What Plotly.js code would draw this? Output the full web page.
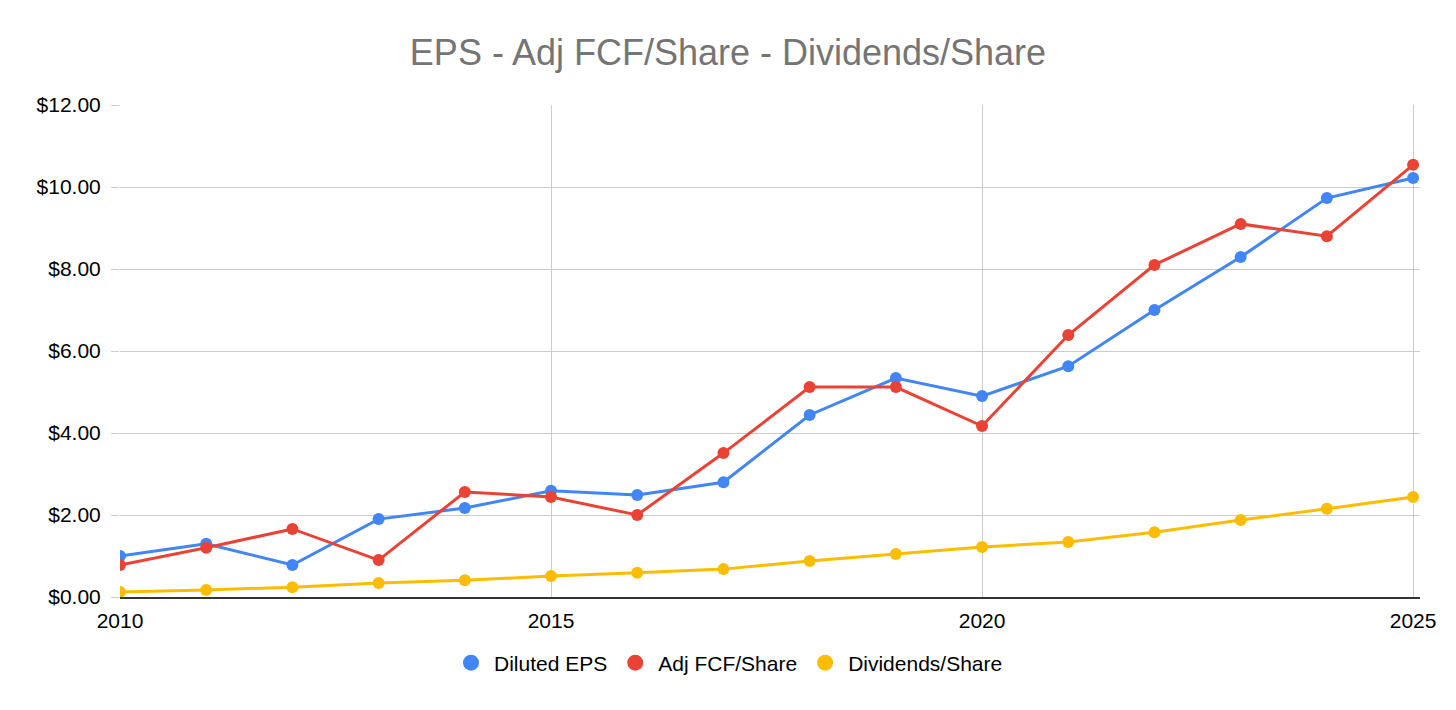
<!DOCTYPE html>
<html>
<head>
<meta charset="utf-8">
<script src="https://cdn.plot.ly/plotly-3.0.1.min.js"></script>
<style>
  html, body { margin: 0; padding: 0; background: #fff; }
  #chart { width: 1456px; height: 710px; }
</style>
</head>
<body>
<div id="chart"></div>
<script>
// ── Data ──
const years = [2010, 2011, 2012, 2013, 2014, 2015, 2016, 2017,
               2018, 2019, 2020, 2021, 2022, 2023, 2024, 2025];
const dilutedEps = [1.00, 1.30, 0.78, 1.90, 2.17, 2.59, 2.49, 2.80,
                    4.44, 5.34, 4.90, 5.63, 7.00, 8.29, 9.73, 10.22];
const adjFcfPerShare = [0.78, 1.20, 1.66, 0.90, 2.56, 2.44, 2.00, 3.51,
                        5.12, 5.12, 4.17, 6.39, 8.10, 9.10, 8.80, 10.54];
const dividendsPerShare = [0.12, 0.17, 0.24, 0.34, 0.41, 0.51, 0.59, 0.68,
                           0.88, 1.05, 1.22, 1.34, 1.58, 1.88, 2.15, 2.44];
const seriesNames = ['Diluted EPS', 'Adj FCF/Share', 'Dividends/Share'];
const seriesColors = ['#4285F4', '#EA4335', '#FBBC04'];

const FONT = 'Liberation Sans, Arial, sans-serif';

function lineTrace(y, i) {
    return {
        x: years,
        y: y,
        type: 'scatter',
        mode: 'lines+markers',
        name: seriesNames[i],
        showlegend: false,
        line: { color: seriesColors[i], width: 3 },
        marker: { color: seriesColors[i], size: 12 },
        hoverinfo: 'x+y',
    };
}

// legend-only entries so the key shows plain dots
function legendTrace(i) {
    return {
        x: [null],
        y: [null],
        type: 'scatter',
        mode: 'markers',
        name: seriesNames[i],
        marker: { color: seriesColors[i], size: 16 },
    };
}

const traces = [
    lineTrace(dilutedEps, 0),
    lineTrace(adjFcfPerShare, 1),
    lineTrace(dividendsPerShare, 2),
    legendTrace(0), legendTrace(1), legendTrace(2),
];

const layout = {
    width: 1456,
    height: 710,
    paper_bgcolor: '#ffffff',
    plot_bgcolor: '#ffffff',
    margin: { l: 120, r: 36, t: 105, b: 113 },
    font: { family: FONT, size: 21, color: '#000' },
    title: {
        text: 'EPS - Adj FCF/Share - Dividends/Share',
        font: { family: FONT, size: 36, color: '#757575' },
        x: 0.5,
        xref: 'container',
        xanchor: 'center',
        y: 1 - 52 / 710,
        yanchor: 'middle',
    },
    xaxis: {
        range: [2010, 2025.08],
        tickvals: [2010, 2015, 2020, 2025],
        ticktext: ['2010', '2015', '2020', '2025'],
        showgrid: true,
        gridcolor: '#cccccc',
        gridwidth: 1,
        zeroline: false,
        showline: true,
        linecolor: '#333333',
        linewidth: 2,
        ticks: '',
        ticklabelstandoff: 4,
        tickfont: { family: FONT, size: 21, color: '#000' },
        fixedrange: true,
    },
    yaxis: {
        range: [0, 12],
        dtick: 2,
        tickformat: '$.2f',
        showgrid: true,
        gridcolor: '#cccccc',
        gridwidth: 1,
        zeroline: false,
        showline: false,
        ticks: 'outside',
        ticklen: 8,
        tickcolor: '#cccccc',
        ticklabelstandoff: 6,
        tickfont: { family: FONT, size: 21, color: '#000' },
        fixedrange: true,
    },
    legend: {
        orientation: 'h',
        xref: 'container',
        yref: 'container',
        x: 0.5,
        xanchor: 'center',
        y: 1 - 663 / 710,
        yanchor: 'middle',
        font: { family: FONT, size: 21, color: '#000' },
        itemwidth: 36,
    },
    showlegend: true,
};

Plotly.newPlot('chart', traces, layout, { displayModeBar: false, responsive: false });
</script>
</body>
</html>
